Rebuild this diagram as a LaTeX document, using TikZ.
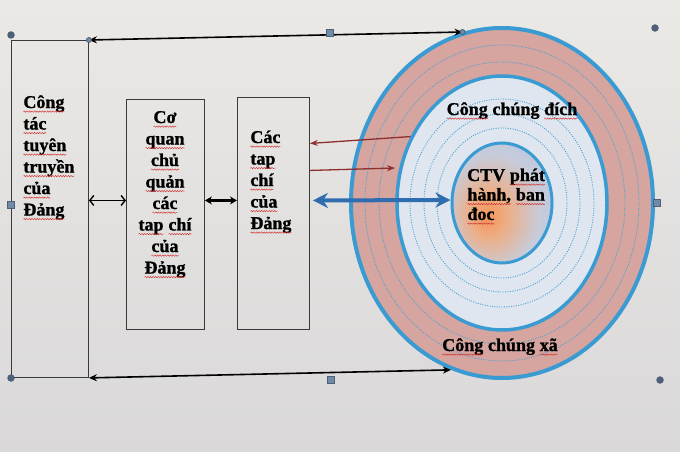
\documentclass[tikz,border=0pt]{standalone}
\usepackage{fontspec}
\setmainfont{Liberation Serif}
\newfontfamily\bsf{Liberation Serif Bold}[FakeBold=1.2]
\usetikzlibrary{arrows.meta,shapes.geometric,decorations.pathmorphing}
\definecolor{bgtop}{HTML}{EAE9E5}
\definecolor{bgbot}{HTML}{DAD8D9}
\definecolor{ringblue}{HTML}{3A9BD2}
\definecolor{dotblue}{HTML}{4AA2D4}
\definecolor{pinkband}{HTML}{D6A59F}
\definecolor{lightreg}{HTML}{DFE6EF}
\definecolor{arrred}{HTML}{8E2F2F}
\definecolor{arrblue}{HTML}{2F6CB0}
\definecolor{handle}{HTML}{4E5F78}
\definecolor{handlesq}{HTML}{6F8BA8}
\definecolor{sqred}{HTML}{D03030}
\definecolor{boxline}{HTML}{3A3A3A}
\newcommand\sq[1]{\tikz[baseline=(w.base)]{\node[inner sep=0,outer sep=0,font=\bsf] (w) {#1};\draw[sqred,line width=0.45pt,decorate,decoration={snake,amplitude=0.7pt,segment length=2.6pt}] ([yshift=-3.6pt]w.base west) -- ([yshift=-3.6pt]w.base east);}}
\pgfdeclareradialshading{glow}{\pgfpoint{-8bp}{-6bp}}{rgb(0bp)=(0.96,0.58,0.34);rgb(9bp)=(0.93,0.68,0.52);rgb(24bp)=(0.78,0.80,0.86);rgb(40bp)=(0.68,0.77,0.87);rgb(60bp)=(0.64,0.75,0.87)}
\begin{document}
\begin{tikzpicture}[x=1pt,y=-1pt,
  box/.style={draw=boxline,line width=0.9pt,anchor=north west,inner sep=0},
  txt/.style={font=\bsf\fontsize{18pt}{21.5pt}\selectfont,inner sep=0,text=black},
  dotring/.style={dotblue,line width=0.9pt,dash pattern=on 1pt off 1.4pt},
  blackarr/.style={line width=1.6pt,black,{Stealth[length=8pt,width=7pt]}-{Stealth[length=8pt,width=7pt]}},
  openarr/.style={line width=1.4pt,black,{Straight Barb[length=4pt,width=10pt]}-{Straight Barb[length=4pt,width=10pt]}},
  fatarr/.style={line width=2.6pt,black,{Stealth[length=7pt,width=8pt]}-{Stealth[length=7pt,width=8pt]}},
  redarr/.style={line width=1.3pt,arrred,-{Stealth[length=8pt,width=6pt]}},
  bluearr/.style={line width=4pt,arrblue,{Stealth[length=15pt,width=15pt]}-{Stealth[length=15pt,width=15pt]}},
  hc/.style={circle,fill=handle,minimum size=7.5pt,inner sep=0},
  hs/.style={rectangle,fill=handlesq,draw=handle,line width=0.6pt,minimum size=7pt,inner sep=0},
  endc/.style={circle,draw=handle,fill=handlesq,line width=0.8pt,minimum size=5pt,inner sep=0}]
\shade[top color=bgtop,bottom color=bgbot] (0,0) rectangle (680,452);
\useasboundingbox (0,0) rectangle (680,452);

% concentric ellipses
\node[ellipse,draw=ringblue,line width=4pt,fill=pinkband,minimum width=302pt,minimum height=350pt,inner sep=0] (outer) at (502,203) {};
\draw[dotring] (outer.center) ellipse [x radius=137,y radius=158];
\draw[dotring] (outer.center) ellipse [x radius=123,y radius=141];
\node[ellipse,draw=ringblue,line width=3.5pt,fill=lightreg,minimum width=210pt,minimum height=254pt,inner sep=0] (inner) at (502,203) {};
\draw[dotring] (inner.center) ellipse [x radius=92,y radius=104];
\draw[dotring] (inner.center) ellipse [x radius=78,y radius=89];
\draw[dotring] (inner.center) ellipse [x radius=65,y radius=75];
\node[ellipse,draw=ringblue,line width=3pt,shading=glow,minimum width=100pt,minimum height=120pt,inner sep=0] (cen) at (502,203) {};

% boxes
\node[box,minimum width=77pt,minimum height=337pt] (b1) at (11,40) {};
\node[box,minimum width=78pt,minimum height=230pt] (b2) at (126,99) {};
\node[box,minimum width=72pt,minimum height=232pt] (b3) at (237,97) {};

% texts
\node[txt,anchor=base west] (t1) at (23,108) {\begin{tabular}[t]{@{}l@{}}\sq{Công}\\\sq{tác}\\\sq{tuyên}\\\sq{truyền}\\\sq{của}\\\sq{Đảng}\end{tabular}};
\node[txt,anchor=base] (t2) at (165,123) {\begin{tabular}[t]{@{}c@{}}\sq{Cơ}\\\sq{quan}\\\sq{chủ}\\\sq{quản}\\\sq{các}\\\sq{tap} \sq{chí}\\\sq{của}\\\sq{Đảng}\end{tabular}};
\node[txt,anchor=base west] (t3) at (250,143) {\begin{tabular}[t]{@{}l@{}}\sq{Các}\\\sq{tap}\\\sq{chí}\\\sq{của}\\\sq{Đảng}\end{tabular}};
\node[txt,anchor=base] (t4) at (512,115) {\sq{Công} chúng \sq{đích}};
\node[txt,anchor=base west,font=\bsf\fontsize{18pt}{19.5pt}\selectfont] (t5) at (467,181) {\begin{tabular}[t]{@{}l@{}}CTV \sq{phát}\\\sq{hành,} \sq{ban}\\\sq{đoc}\end{tabular}};
\node[txt,anchor=base] (t6) at (500,351) {\sq{Công} chúng \sq{xã}};

% connectors
\draw[blackarr] (b1.north east) -- (outer.103);
\draw[blackarr] (b1.south east) -- (outer.253);
\draw[openarr] ([yshift=8.5pt]b1.east) -- ([yshift=14pt]b2.west);
\draw[fatarr] ([yshift=14pt]b2.east) -- ([yshift=13pt]b3.west);
\coordinate (r2e) at (395,168);
\draw[redarr] (inner.144.5) -- ([yshift=70pt]b3.east);
\draw[redarr] ([yshift=43pt]b3.east) -- (r2e);
\draw[bluearr] ([xshift=3pt,yshift=13pt]b3.east) -- ([yshift=3pt]cen.west);

% selection handles
\node[endc] (e1) at (b1.north east) {};
\node[endc] (e2) at (outer.103) {};
\node[hc] (h1) at (11,35) {};
\node[hs] (h2) at (330,33) {};
\node[hc] (h3) at (655,28) {};
\node[hs] (h4) at (11,205) {};
\node[hs] (h5) at (657,203) {};
\node[hc] (h6) at (11,378) {};
\node[hs] (h7) at (331,380) {};
\node[hc] (h8) at (660,380) {};
\end{tikzpicture}
\end{document}
